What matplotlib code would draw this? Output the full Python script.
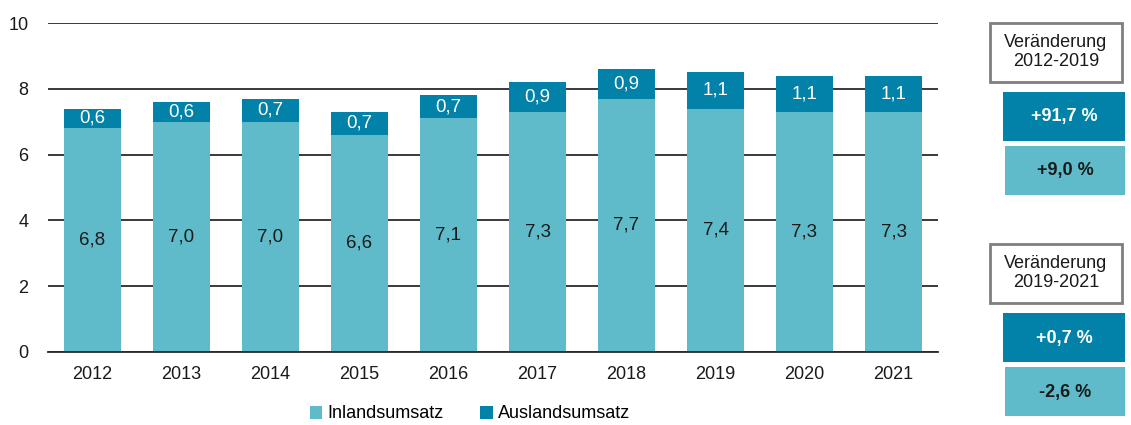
"""Umsatzentwicklung 2012-2021: Inlands- und Auslandsumsatz als gestapelte Säulen."""

import matplotlib

matplotlib.use("Agg")
import matplotlib.pyplot as plt
from matplotlib.font_manager import fontManager
from matplotlib.patches import Rectangle

years = ["2012", "2013", "2014", "2015", "2016", "2017", "2018", "2019", "2020", "2021"]
inland = [6.8, 7.0, 7.0, 6.6, 7.1, 7.3, 7.7, 7.4, 7.3, 7.3]
ausland = [0.6, 0.6, 0.7, 0.7, 0.7, 0.9, 0.9, 1.1, 1.1, 1.1]
yticks = [0, 2, 4, 6, 8, 10]
change_titles = ["Veränderung\n2012-2019", "Veränderung\n2019-2021"]
change_ausland = ["+91,7 %", "+0,7 %"]
change_inland = ["+9,0 %", "-2,6 %"]

LIGHT = "#5fbbc9"
DARK = "#0281a9"
W, H = 1131, 425

names = {f.name for f in fontManager.ttflist}
family = "Liberation Sans Narrow" if "Liberation Sans Narrow" in names else "Liberation Sans"
plt.rcParams["font.family"] = [family, "DejaVu Sans"]


def fx(x):
    return x / W


def fy(y):
    return 1 - y / H


fig = plt.figure(figsize=(W / 100, H / 100), dpi=100)
ax = fig.add_axes([fx(48), fy(352), (938 - 48) / W, (352 - 23) / H])

x = range(len(years))
b1 = ax.bar(x, inland, width=0.63, color=LIGHT, label="Inlandsumsatz", zorder=2)
b2 = ax.bar(x, ausland, width=0.63, bottom=inland, color=DARK,
            label="Auslandsumsatz", zorder=2)

for i, (a, b) in enumerate(zip(inland, ausland)):
    ax.text(i, a / 2, f"{a:.1f}".replace(".", ","), ha="center", va="center",
            fontsize=13.5, color="#1a1a1a", zorder=3)
    ax.text(i, a + b / 2, f"{b:.1f}".replace(".", ","), ha="center", va="center",
            fontsize=13.5, color="white", zorder=3)

ax.set_xlim(-0.5, len(years) - 0.5)
ax.set_ylim(0, 10)
ax.set_yticks(yticks)
ax.set_xticks(list(x))
ax.set_xticklabels(years)
ax.tick_params(length=0, labelsize=13, colors="#1a1a1a")
ax.tick_params(axis="y", pad=14)
ax.tick_params(axis="x", pad=10)
ax.grid(axis="y", color="#2a2a2a", linewidth=1.3, zorder=0)
for s in ["top", "right", "left"]:
    ax.spines[s].set_visible(False)
ax.spines["bottom"].set_color("#2a2a2a")
ax.spines["bottom"].set_linewidth(1.3)

fig.legend(handles=[b1, b2], loc="center", bbox_to_anchor=(fx(470), fy(414)),
           ncol=2, frameon=False, fontsize=13, handlelength=0.7, handleheight=0.7,
           handletextpad=0.3, columnspacing=2.0)

# Kästen rechts
tops = [23, 244]
for k in range(2):
    t = tops[k]
    fig.add_artist(Rectangle((fx(990), fy(t + 59)), 132 / W, 59 / H,
                             transform=fig.transFigure, facecolor="white",
                             edgecolor="#7f7f7f", linewidth=2))
    fig.text(fx(1056), fy(t + 29), change_titles[k], ha="center", va="center",
             fontsize=13, color="#1a1a1a", linespacing=1.1)
    fig.add_artist(Rectangle((fx(1003), fy(t + 118)), 122 / W, 49 / H,
                             transform=fig.transFigure, facecolor=DARK,
                             edgecolor="none"))
    fig.text(fx(1064), fy(t + 94), change_ausland[k], ha="center", va="center",
             fontsize=13, color="white", fontweight="bold")
    fig.add_artist(Rectangle((fx(1005), fy(t + 172)), 120 / W, 49 / H,
                             transform=fig.transFigure, facecolor=LIGHT,
                             edgecolor="none"))
    fig.text(fx(1065), fy(t + 148), change_inland[k], ha="center", va="center",
             fontsize=13, color="#1a1a1a", fontweight="bold")

fig.savefig("out.png", dpi=100)
